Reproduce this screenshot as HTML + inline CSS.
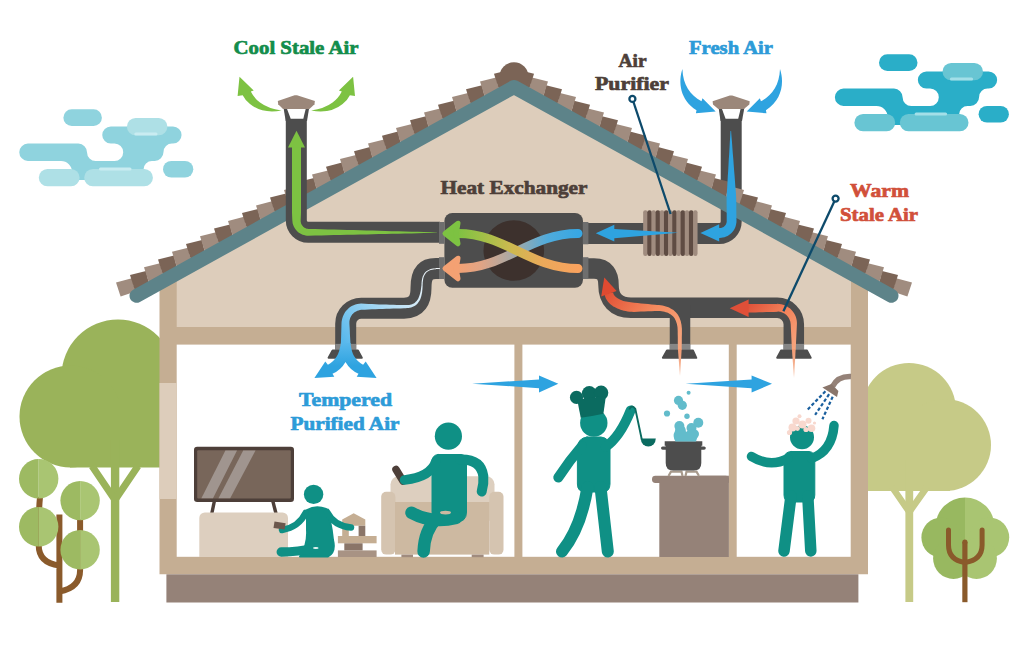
<!DOCTYPE html>
<html><head><meta charset="utf-8"><title>Heat Recovery Ventilation</title>
<style>
html,body{margin:0;padding:0;background:#fff;}
body{width:1024px;height:657px;overflow:hidden;font-family:"Liberation Serif",serif;}
svg{display:block;}
text{font-family:"Liberation Serif",serif;font-weight:bold;}
</style></head><body>
<svg width="1024" height="657" viewBox="0 0 1024 657">
<defs>
<g id="cloudMain">
<path d="M27.9,143.6 H78.4 A8.65,8.65 0 0 1 87,152.25 A8.65,8.65 0 0 0 95.7,160.9 H114.5 A8.65,8.65 0 0 0 123.2,152.25 A8.65,8.65 0 0 0 114.5,143.6 H110.8 A8.55,8.55 0 0 1 110.8,126.5 H173 A8.55,8.55 0 0 1 173,143.6 H172 A8.5,8.5 0 0 0 163.5,152.1 A8.8,8.8 0 0 1 154.7,160.9 H152 A8.5,8.5 0 0 0 143.5,169.4 V180 H72 V172 A11,11 0 0 0 61,160.9 H27.9 A8.65,8.65 0 0 1 27.9,143.6 Z"/>
<rect x="63.4" y="109.3" width="38.5" height="16.7" rx="8.35"/>
<rect x="163" y="160.9" width="30.3" height="16.7" rx="8.35"/>
</g>
<g id="cloudLight">
<rect x="126.9" y="118" width="40.5" height="17.3" rx="8.65"/>
<rect x="38.8" y="169" width="40.8" height="17.3" rx="8.65"/>
<rect x="84.2" y="169" width="68.7" height="17.3" rx="8.65"/>
</g>
<g id="cloudHi">
<rect x="134.3" y="132.6" width="23.2" height="3" rx="1.5"/>
<rect x="99" y="167.6" width="32.5" height="3" rx="1.5"/>
</g>
</defs>

<!-- ===== CLOUDS ===== -->
<g id="cloud-left">
<use href="#cloudMain" fill="#8fd3de"/><use href="#cloudLight" fill="#aee0e6"/><use href="#cloudHi" fill="#c9ecf1"/>
</g>
<g id="cloud-right" transform="translate(815.6,-55)">
<use href="#cloudMain" fill="#2aaec8"/><use href="#cloudLight" fill="#68c5d3"/><use href="#cloudHi" fill="#a3dfe8"/>
</g>

<!-- ===== BIG TREES (behind house) ===== -->
<g id="tree-left-big" fill="#9ab35a">
<circle cx="118" cy="376" r="56.5"/>
<circle cx="70.5" cy="416.5" r="51"/>
<rect x="70" y="400" width="100" height="67.5"/>
<rect x="110.9" y="440" width="8.4" height="162"/>
<path d="M115,500 L92,466 M115,500 L138,466" stroke="#9ab35a" stroke-width="7" fill="none"/>
</g>
<g id="tree-right-big" fill="#c6ca87">
<circle cx="909" cy="410" r="47"/>
<circle cx="945" cy="445" r="46"/>
<rect x="860" y="420" width="90" height="71"/>
<rect x="905.4" y="460" width="7.8" height="142"/>
<path d="M909.3,512 L892,487 M909.3,512 L927,487" stroke="#c6ca87" stroke-width="6.5" fill="none"/>
</g>

<!-- ===== SMALL TREES ===== -->
<g id="tree-left-small">
<path d="M59.4,602.8 V514.5 M59.4,565.5 Q38.7,563 38.7,545 V530 Q38.7,510 40,497 M59.4,591.5 Q80.1,588 80.1,570 V550 Q80.1,530 80.1,519" stroke="#8a5a2b" stroke-width="6" fill="none"/>
<path d="M38.7,459.0 A19.7,19.7 0 0 0 38.7,498.4 Z" fill="#9dba62"/><path d="M38.7,459.0 A19.7,19.7 0 0 1 38.7,498.4 Z" fill="#a9c572"/>
<path d="M80.1,480.90000000000003 A19.7,19.7 0 0 0 80.1,520.3000000000001 Z" fill="#9dba62"/><path d="M80.1,480.90000000000003 A19.7,19.7 0 0 1 80.1,520.3000000000001 Z" fill="#a9c572"/>
<path d="M38.7,507.00000000000006 A19.7,19.7 0 0 0 38.7,546.4000000000001 Z" fill="#9dba62"/><path d="M38.7,507.00000000000006 A19.7,19.7 0 0 1 38.7,546.4000000000001 Z" fill="#a9c572"/>
<path d="M80.1,530.0999999999999 A19.7,19.7 0 0 0 80.1,569.5 Z" fill="#9dba62"/><path d="M80.1,530.0999999999999 A19.7,19.7 0 0 1 80.1,569.5 Z" fill="#a9c572"/>
</g>
<g id="tree-right-small">
<defs><clipPath id="rtL"><rect x="900" y="480" width="65.1" height="130"/></clipPath><clipPath id="rtR"><rect x="965.1" y="480" width="70" height="130"/></clipPath>
<g id="rtree"><circle cx="965" cy="527" r="29.6"/><circle cx="941.4" cy="537.5" r="20"/><circle cx="989.2" cy="537.5" r="20"/><circle cx="953.5" cy="558.5" r="20.4"/><circle cx="976.5" cy="558.5" r="20.4"/></g></defs>
<use href="#rtree" fill="#98b860" clip-path="url(#rtL)"/><use href="#rtree" fill="#a9c572" clip-path="url(#rtR)"/>
<path d="M964.9,602.2 V542" stroke="#8a5a2b" stroke-width="5.2" fill="none"/><circle cx="964.9" cy="542" r="2.6" fill="#8a5a2b"/><path d="M948.5,530 V545 Q948.5,560 964.9,562.5 Q982.1,560 982.1,545 V530" stroke="#8a5a2b" stroke-width="5" fill="none" stroke-linecap="round"/>
</g>
<!-- ===== HOUSE BODY ===== -->
<g id="house">
<!-- outer tan wall shape incl gable -->
<polygon fill="#c5ae93" points="159.5,289.5 513.7,93.6 868,289.5 868,574.3 159.5,574.3"/>
<!-- attic beige -->
<polygon fill="#ddcdbb" points="176.7,280 513.7,93.6 851,280 851,327 176.7,327"/>
<!-- rooms white -->
<rect x="176.7" y="344.6" width="337.7" height="212.2" fill="#fff"/>
<rect x="522.4" y="344.6" width="206.4" height="212.2" fill="#fff"/>
<rect x="736.7" y="344.6" width="114" height="212.2" fill="#fff"/>
<!-- left wall light section -->
<rect x="159.5" y="383" width="17.2" height="116" fill="#ddcdbb"/>
<!-- foundation -->
<rect x="166.4" y="574.3" width="692" height="28.2" fill="#958278"/>
</g>

<g id="pipe-behind-roof">
<path d="M731.2,112 V221.6 a12,12 0 0 1 -12,12 H588" fill="none" stroke="#4d4d4d" stroke-width="21"/>
</g>
<!-- ===== ROOF ===== -->
<g id="roof">
<polygon fill="#a08c7f" points="116,282.6 131.8,278.3 135.5,291.5 120.6,296.4"/>
<polygon fill="#7b6456" points="130.0,275.1 146.0,271.0 150.0,288.3 136.0,294.0"/>
<polygon fill="#a08c7f" points="144.0,267.3 160.0,263.3 164.0,280.6 150.0,286.3"/>
<polygon fill="#7b6456" points="158.0,259.6 174.0,255.5 178.0,272.8 164.0,278.6"/>
<polygon fill="#a08c7f" points="172.0,251.8 188.0,247.8 192.0,265.1 178.0,270.8"/>
<polygon fill="#7b6456" points="186.0,244.1 202.0,240.0 206.0,257.3 192.0,263.1"/>
<polygon fill="#a08c7f" points="200.0,236.3 216.0,232.3 220.0,249.6 206.0,255.3"/>
<polygon fill="#7b6456" points="214.0,228.6 230.0,224.6 234.0,241.8 220.0,247.6"/>
<polygon fill="#a08c7f" points="228.0,220.9 244.0,216.8 248.0,234.1 234.0,239.8"/>
<polygon fill="#7b6456" points="242.0,213.1 258.0,209.1 262.0,226.4 248.0,232.1"/>
<polygon fill="#a08c7f" points="256.0,205.4 272.0,201.3 276.0,218.6 262.0,224.4"/>
<polygon fill="#7b6456" points="270.0,197.6 286.0,193.6 290.0,210.9 276.0,216.6"/>
<polygon fill="#a08c7f" points="284.0,189.9 300.0,185.8 304.0,203.1 290.0,208.9"/>
<polygon fill="#7b6456" points="298.0,182.1 314.0,178.1 318.0,195.4 304.0,201.1"/>
<polygon fill="#a08c7f" points="312.0,174.4 328.0,170.4 332.0,187.6 318.0,193.4"/>
<polygon fill="#7b6456" points="326.0,166.7 342.0,162.6 346.0,179.9 332.0,185.6"/>
<polygon fill="#a08c7f" points="340.0,158.9 356.0,154.9 360.0,172.2 346.0,177.9"/>
<polygon fill="#7b6456" points="354.0,151.2 370.0,147.1 374.0,164.4 360.0,170.2"/>
<polygon fill="#a08c7f" points="368.0,143.4 384.0,139.4 388.0,156.7 374.0,162.4"/>
<polygon fill="#7b6456" points="382.0,135.7 398.0,131.6 402.0,148.9 388.0,154.7"/>
<polygon fill="#a08c7f" points="396.0,128.0 412.0,123.9 416.0,141.2 402.0,146.9"/>
<polygon fill="#7b6456" points="410.0,120.2 426.0,116.2 430.0,133.5 416.0,139.2"/>
<polygon fill="#a08c7f" points="424.0,112.5 440.0,108.4 444.0,125.7 430.0,131.5"/>
<polygon fill="#7b6456" points="438.0,104.7 454.0,100.7 458.0,118.0 444.0,123.7"/>
<polygon fill="#a08c7f" points="452.0,97.0 468.0,92.9 472.0,110.2 458.0,116.0"/>
<polygon fill="#7b6456" points="466.0,89.2 482.0,85.2 486.0,102.5 472.0,108.2"/>
<polygon fill="#a08c7f" points="480.0,81.5 496.0,77.5 500.0,94.7 486.0,100.5"/>
<polygon fill="#7b6456" points="494.0,73.8 510.0,69.7 514.0,87.0 500.0,92.7"/>
<polygon fill="#a08c7f" points="912,282.6 896.2,278.3 892.5,291.5 907.4,296.4"/>
<polygon fill="#7b6456" points="898.0,275.1 882.0,271.0 878.0,288.3 892.0,294.0"/>
<polygon fill="#a08c7f" points="884.0,267.3 868.0,263.3 864.0,280.6 878.0,286.3"/>
<polygon fill="#7b6456" points="870.0,259.6 854.0,255.5 850.0,272.8 864.0,278.6"/>
<polygon fill="#a08c7f" points="856.0,251.8 840.0,247.8 836.0,265.1 850.0,270.8"/>
<polygon fill="#7b6456" points="842.0,244.1 826.0,240.0 822.0,257.3 836.0,263.1"/>
<polygon fill="#a08c7f" points="828.0,236.3 812.0,232.3 808.0,249.6 822.0,255.3"/>
<polygon fill="#7b6456" points="814.0,228.6 798.0,224.6 794.0,241.8 808.0,247.6"/>
<polygon fill="#a08c7f" points="800.0,220.9 784.0,216.8 780.0,234.1 794.0,239.8"/>
<polygon fill="#7b6456" points="786.0,213.1 770.0,209.1 766.0,226.4 780.0,232.1"/>
<polygon fill="#a08c7f" points="772.0,205.4 756.0,201.3 752.0,218.6 766.0,224.4"/>
<polygon fill="#7b6456" points="758.0,197.6 742.0,193.6 738.0,210.9 752.0,216.6"/>
<polygon fill="#a08c7f" points="744.0,189.9 728.0,185.8 724.0,203.1 738.0,208.9"/>
<polygon fill="#7b6456" points="730.0,182.1 714.0,178.1 710.0,195.4 724.0,201.1"/>
<polygon fill="#a08c7f" points="716.0,174.4 700.0,170.4 696.0,187.6 710.0,193.4"/>
<polygon fill="#7b6456" points="702.0,166.7 686.0,162.6 682.0,179.9 696.0,185.6"/>
<polygon fill="#a08c7f" points="688.0,158.9 672.0,154.9 668.0,172.2 682.0,177.9"/>
<polygon fill="#7b6456" points="674.0,151.2 658.0,147.1 654.0,164.4 668.0,170.2"/>
<polygon fill="#a08c7f" points="660.0,143.4 644.0,139.4 640.0,156.7 654.0,162.4"/>
<polygon fill="#7b6456" points="646.0,135.7 630.0,131.6 626.0,148.9 640.0,154.7"/>
<polygon fill="#a08c7f" points="632.0,128.0 616.0,123.9 612.0,141.2 626.0,146.9"/>
<polygon fill="#7b6456" points="618.0,120.2 602.0,116.2 598.0,133.5 612.0,139.2"/>
<polygon fill="#a08c7f" points="604.0,112.5 588.0,108.4 584.0,125.7 598.0,131.5"/>
<polygon fill="#7b6456" points="590.0,104.7 574.0,100.7 570.0,118.0 584.0,123.7"/>
<polygon fill="#a08c7f" points="576.0,97.0 560.0,92.9 556.0,110.2 570.0,116.0"/>
<polygon fill="#7b6456" points="562.0,89.2 546.0,85.2 542.0,102.5 556.0,108.2"/>
<polygon fill="#a08c7f" points="548.0,81.5 532.0,77.5 528.0,94.7 542.0,100.5"/>
<polygon fill="#7b6456" points="534.0,73.8 518.0,69.7 514.0,87.0 528.0,92.7"/>
<circle cx="514" cy="76.7" r="14.5" fill="#7b6456"/>
<polyline points="136.5,295.8 514,87 891.5,295.8" fill="none" stroke="#5d8389" stroke-width="14" stroke-linecap="round" stroke-linejoin="round"/>
</g>

<!-- ===== ROOF PIPES (drawn above roof) ===== -->
<g id="pipes">
<!-- cool stale air pipe + duct -->
<path d="M296.3,112 V220.3 a12,12 0 0 0 12,12 H440" fill="none" stroke="#4d4d4d" stroke-width="21"/>
<polygon fill="#4d4d4d" points="283.4,107 309.3,107 307,121 285.7,121"/>
<polygon fill="#fff" points="286.9,108.5 305.8,108.5 303.3,118.8 290.7,118.8"/>
<polygon fill="#9b877a" points="294.6,95.3 297,95.3 314.9,100.9 314.5,104.3 309.4,109 283,109 278.2,104.3 277.8,100.9"/>
<!-- fresh air pipe + duct -->
<polygon fill="#4d4d4d" points="718.5,107 744.5,107 742,121 720.5,121"/>
<polygon fill="#fff" points="721.8,108.5 740.7,108.5 738.2,118.8 725.6,118.8"/>
<polygon fill="#9b877a" points="729.8,95.5 732.2,95.5 749.7,101.2 749.3,104.5 743.9,108.9 718.3,108.9 713,104.5 712.6,101.2"/>
<!-- tempered air duct (S shape) -->
<path d="M444,268.6 H436 C424,268.6 421,276 421,288 C421,300 417,308.2 404,308.2 H361.2 a15.5,15.5 0 0 0 -15.5,15.5 V350" fill="none" stroke="#4d4d4d" stroke-width="21"/>
<polygon fill="#4d4d4d" stroke="#4d4d4d" stroke-width="2" stroke-linejoin="round" points="332.6,350.6 358,350.6 361.8,357.8 328.6,357.8"/>
<rect x="335.2" y="343.9" width="21" height="5.8" fill="#868686"/>
<!-- warm stale air ducts -->
<path d="M588,268.6 H594 C605,268.6 608.5,275 608.5,285 C608.5,299 616,307.8 631,307.8 H777.3 a16.5,16.5 0 0 1 16.5,16.5 V350" fill="none" stroke="#4d4d4d" stroke-width="20.5"/>
<path d="M680,305 V350" fill="none" stroke="#4d4d4d" stroke-width="20.5"/>
<polygon fill="#4d4d4d" stroke="#4d4d4d" stroke-width="2" stroke-linejoin="round" points="781,350.6 807,350.6 810.7,357.8 777.2,357.8"/>
<polygon fill="#4d4d4d" stroke="#4d4d4d" stroke-width="2" stroke-linejoin="round" points="667,350.6 693,350.6 696.3,357.8 662.9,357.8"/>
<rect x="783.55" y="343.9" width="20.5" height="5.8" fill="#868686"/>
<rect x="669.75" y="343.9" width="20.5" height="5.8" fill="#868686"/>
<!-- heat exchanger box -->
<rect x="444.4" y="213" width="138.6" height="74.8" rx="8" fill="#4d4d4d"/>
<circle cx="513.8" cy="250.5" r="30.3" fill="#3d312d"/>
<!-- collars -->
<rect x="439" y="222" width="5.6" height="21.8" fill="#6e6e6e"/>
<rect x="439" y="257.2" width="5.6" height="21.8" fill="#6e6e6e"/>
<rect x="582.8" y="222" width="5.6" height="22.3" fill="#6e6e6e"/>
<rect x="582.8" y="257.2" width="5.6" height="21.8" fill="#6e6e6e"/>
<!-- purifier -->
<g id="purifier">
<rect x="644.5" y="212.5" width="51.7" height="41" fill="#a08c7f"/>
<rect x="643.15" y="210.2" width="4.46" height="45.7" rx="2.1" fill="#a08c7f"/>
<rect x="647.31" y="210.2" width="4.46" height="45.7" rx="2.1" fill="#5f4c43"/>
<rect x="651.47" y="210.2" width="4.46" height="45.7" rx="2.1" fill="#a08c7f"/>
<rect x="655.63" y="210.2" width="4.46" height="45.7" rx="2.1" fill="#5f4c43"/>
<rect x="659.80" y="210.2" width="4.46" height="45.7" rx="2.1" fill="#a08c7f"/>
<rect x="663.96" y="210.2" width="4.46" height="45.7" rx="2.1" fill="#5f4c43"/>
<rect x="668.12" y="210.2" width="4.46" height="45.7" rx="2.1" fill="#a08c7f"/>
<rect x="672.28" y="210.2" width="4.46" height="45.7" rx="2.1" fill="#5f4c43"/>
<rect x="676.44" y="210.2" width="4.46" height="45.7" rx="2.1" fill="#a08c7f"/>
<rect x="680.60" y="210.2" width="4.46" height="45.7" rx="2.1" fill="#5f4c43"/>
<rect x="684.77" y="210.2" width="4.46" height="45.7" rx="2.1" fill="#a08c7f"/>
<rect x="688.93" y="210.2" width="4.46" height="45.7" rx="2.1" fill="#5f4c43"/>
<rect x="693.09" y="210.2" width="4.46" height="45.7" rx="2.1" fill="#a08c7f"/>
</g>
</g>
<g id="flows">
<defs>
<linearGradient id="gTemp" gradientUnits="userSpaceOnUse" x1="436" y1="268" x2="346" y2="345">
<stop offset="0" stop-color="#f4f9fc"/><stop offset="0.35" stop-color="#cfe8f6"/><stop offset="0.7" stop-color="#8fcff2"/><stop offset="1" stop-color="#58b8ec"/></linearGradient>
<linearGradient id="gTemp2" gradientUnits="userSpaceOnUse" x1="0" y1="343" x2="0" y2="366">
<stop offset="0" stop-color="#58b8ec"/><stop offset="1" stop-color="#2ea3e0"/></linearGradient>
<linearGradient id="gWarmM" gradientUnits="userSpaceOnUse" x1="680" y1="345" x2="606" y2="285">
<stop offset="0" stop-color="#f7a67e"/><stop offset="0.45" stop-color="#f58a5e"/><stop offset="1" stop-color="#df4a31"/></linearGradient>
<linearGradient id="gWarmR" gradientUnits="userSpaceOnUse" x1="794" y1="350" x2="745" y2="306">
<stop offset="0" stop-color="#f7a67e"/><stop offset="0.5" stop-color="#f3825a"/><stop offset="1" stop-color="#df4f38"/></linearGradient>
<linearGradient id="gDrip" gradientUnits="userSpaceOnUse" x1="0" y1="349" x2="0" y2="378">
<stop offset="0" stop-color="#f39a72"/><stop offset="1" stop-color="#f7c3a8"/></linearGradient>
<linearGradient id="gXA" gradientUnits="userSpaceOnUse" x1="578" y1="0" x2="457" y2="0">
<stop offset="0" stop-color="#38a7e3"/><stop offset="0.25" stop-color="#4fabdc"/><stop offset="0.52" stop-color="#a3a9a8"/><stop offset="0.8" stop-color="#e0a485"/><stop offset="1" stop-color="#f4a173"/></linearGradient>
<linearGradient id="gXB" gradientUnits="userSpaceOnUse" x1="578" y1="0" x2="457" y2="0">
<stop offset="0" stop-color="#f9a25e"/><stop offset="0.3" stop-color="#eaa95a"/><stop offset="0.55" stop-color="#cdb94f"/><stop offset="0.8" stop-color="#9fc047"/><stop offset="1" stop-color="#7dc242"/></linearGradient>
</defs>
<path d="M440.0,268.0 L438.0,268.1 L436.0,268.1 L436.0,268.3 L434.5,268.4 L433.2,268.5 L431.9,268.8 L430.7,269.1 L429.6,269.4 L428.6,269.9 L427.6,270.4 L426.8,270.9 L426.0,271.6 L425.3,272.3 L424.6,273.0 L424.1,273.8 L423.6,274.7 L423.1,275.7 L422.7,276.6 L422.4,277.7 L422.1,278.8 L421.9,280.0 L421.7,281.2 L421.6,282.4 L421.5,283.7 L421.5,285.1 L421.3,286.5 L421.1,288.0 L420.9,289.5 L420.7,290.9 L420.4,292.3 L420.1,293.6 L419.7,294.8 L419.3,296.0 L418.9,297.1 L418.4,298.2 L417.9,299.2 L417.3,300.1 L416.7,300.9 L416.0,301.6 L415.3,302.3 L414.6,302.9 L413.8,303.4 L413.0,303.8 L412.1,304.2 L411.2,304.5 L410.2,304.7 L409.1,304.9 L407.9,305.0 L406.7,305.0 L405.4,305.1 L404.0,305.1 L400.4,305.0 L396.9,304.9 L393.3,304.8 L389.7,304.7 L386.2,304.6 L382.6,304.5 L379.0,304.4 L375.5,304.2 L371.9,304.1 L368.3,303.9 L364.8,303.7 L361.1,303.6 L359.2,303.7 L357.3,304.1 L355.4,304.6 L353.6,305.3 L351.8,306.1 L350.1,307.1 L348.6,308.3 L347.2,309.7 L345.9,311.1 L344.7,312.7 L343.8,314.4 L343.0,316.2 L342.4,318.0 L341.9,319.9 L341.6,321.8 L341.5,323.6 L341.4,327.1 L341.3,330.5 L341.2,333.9 L341.1,337.2 L341.0,340.6 L340.9,344.0 L350.5,344.0 L350.3,340.6 L350.1,337.2 L349.9,333.9 L349.8,330.5 L349.6,327.1 L349.4,323.8 L349.4,322.5 L349.4,321.4 L349.6,320.2 L349.9,319.0 L350.3,317.8 L350.8,316.7 L351.4,315.7 L352.1,314.6 L353.0,313.7 L353.9,312.8 L355.0,312.1 L356.1,311.4 L357.3,310.8 L358.5,310.4 L359.9,310.0 L361.2,309.8 L364.8,309.7 L368.3,309.5 L371.9,309.3 L375.5,309.2 L379.0,309.0 L382.6,308.9 L386.2,308.8 L389.7,308.7 L393.3,308.6 L396.9,308.5 L400.4,308.4 L404.0,308.3 L405.6,308.3 L407.1,308.1 L408.5,308.0 L409.8,307.8 L411.1,307.5 L412.3,307.1 L413.4,306.6 L414.5,306.0 L415.4,305.4 L416.3,304.7 L417.2,303.9 L417.9,303.0 L418.6,302.1 L419.3,301.1 L419.9,300.0 L420.4,298.9 L420.8,297.7 L421.2,296.5 L421.5,295.2 L421.8,293.8 L422.1,292.4 L422.2,291.0 L422.4,289.5 L422.5,288.0 L422.6,286.6 L422.6,285.2 L422.7,283.8 L422.7,282.6 L422.9,281.3 L423.0,280.2 L423.2,279.1 L423.4,278.0 L423.7,277.0 L424.1,276.1 L424.5,275.2 L424.9,274.4 L425.4,273.7 L426.0,273.0 L426.6,272.3 L427.3,271.7 L428.1,271.2 L428.9,270.7 L429.9,270.3 L430.9,270.0 L432.0,269.7 L433.3,269.4 L434.6,269.3 L436.1,269.2 L436.1,269.0 L438.0,268.9 L440.0,268.8 Z" fill="url(#gTemp)"/>
<path fill="url(#gTemp2)" d="M340.9,343 Q339.5,352 337,356 Q333,362.5 327.9,364.7 L325.3,361.5 L314.4,378 L334.3,376.8 L332.5,373.8 Q341,370 345.5,362 Q350,370 358.5,373.8 L356.7,376.8 L376.6,378 L365.7,361.5 L363.1,364.7 Q358,362.5 354,356 Q351.5,352 350.5,343 Z"/>
<path d="M681.7,349.5 L681.7,346.4 L681.8,343.3 L681.8,340.2 L681.8,337.2 L681.9,334.1 L681.9,331.0 L681.9,328.8 L681.7,326.8 L681.5,324.8 L681.1,322.9 L680.7,321.1 L680.1,319.4 L679.5,317.8 L678.7,316.3 L677.9,314.8 L676.9,313.5 L675.8,312.3 L674.7,311.2 L673.4,310.1 L672.0,309.2 L670.6,308.4 L669.1,307.6 L667.6,307.0 L665.9,306.4 L664.3,306.0 L662.5,305.6 L660.7,305.3 L658.9,305.1 L657.0,304.9 L655.1,304.7 L651.6,304.4 L648.1,304.1 L644.6,303.7 L641.1,303.4 L637.6,303.1 L634.2,302.7 L632.4,302.5 L630.7,302.2 L629.1,302.0 L627.5,301.8 L626.0,301.5 L624.6,301.2 L623.3,300.9 L622.1,300.5 L621.0,300.0 L619.9,299.6 L618.9,299.1 L618.0,298.6 L617.2,298.1 L616.5,297.6 L615.9,297.1 L615.3,296.6 L614.8,296.1 L614.4,295.6 L614.1,295.1 L613.8,294.6 L613.5,294.2 L613.4,293.7 L613.3,293.3 L613.2,292.6 L604.6,293.8 L604.8,294.8 L605.0,296.1 L605.4,297.3 L605.9,298.5 L606.5,299.6 L607.3,300.7 L608.0,301.8 L608.9,302.8 L609.9,303.8 L611.0,304.7 L612.1,305.5 L613.3,306.4 L614.6,307.1 L616.0,307.8 L617.4,308.5 L618.9,309.1 L620.5,309.7 L622.2,310.2 L623.9,310.7 L625.7,311.1 L627.6,311.5 L629.6,311.7 L631.7,311.8 L633.8,311.9 L637.4,311.7 L640.9,311.6 L644.4,311.5 L647.9,311.3 L651.4,311.2 L654.9,311.1 L656.7,311.0 L658.4,311.0 L660.0,311.1 L661.6,311.3 L663.1,311.5 L664.5,311.8 L665.8,312.2 L667.1,312.6 L668.3,313.1 L669.4,313.7 L670.4,314.3 L671.4,315.0 L672.3,315.8 L673.2,316.6 L674.0,317.6 L674.7,318.6 L675.3,319.8 L675.9,321.0 L676.4,322.4 L676.9,323.9 L677.2,325.5 L677.5,327.2 L677.6,329.0 L677.7,331.0 L677.7,334.1 L677.8,337.2 L677.8,340.2 L677.8,343.3 L677.9,346.4 L677.9,349.5 Z" fill="url(#gWarmM)"/>
<polygon fill="#df4a31" points="604.3,277.4 601.2,296.6 616.6,290.9"/>
<path d="M795.7,349.5 L795.9,345.3 L796.1,341.1 L796.3,336.9 L796.5,332.6 L796.7,328.4 L796.9,324.2 L796.9,322.3 L796.7,320.3 L796.3,318.5 L795.7,316.6 L794.9,314.8 L793.9,313.1 L792.8,311.5 L791.5,310.0 L790.1,308.6 L788.5,307.4 L786.8,306.3 L785.1,305.4 L783.2,304.7 L781.3,304.2 L779.3,303.9 L777.0,303.8 L777.0,304.0 L773.6,304.0 L769.9,304.0 L766.3,303.9 L762.6,303.9 L758.9,303.9 L755.3,303.9 L751.6,303.9 L748.0,303.9 L748.0,312.5 L751.7,312.5 L755.4,312.4 L759.0,312.3 L762.7,312.2 L766.4,312.1 L770.0,312.0 L773.7,311.9 L777.6,311.8 L777.6,311.6 L778.5,311.6 L779.8,311.8 L781.0,312.1 L782.2,312.5 L783.3,313.0 L784.4,313.6 L785.5,314.3 L786.4,315.1 L787.3,316.0 L788.1,317.0 L788.8,318.0 L789.4,319.2 L789.9,320.4 L790.3,321.6 L790.5,322.9 L790.7,324.2 L790.9,328.4 L791.1,332.6 L791.3,336.9 L791.5,341.1 L791.7,345.3 L791.9,349.5 Z" fill="url(#gWarmR)"/>
<polygon fill="#df4f38" points="729.7,308.2 748.6,299.6 748.6,317"/>
<polygon fill="url(#gDrip)" points="677.9,349 681.7,349 680,376"/>
<polygon fill="url(#gDrip)" points="791.9,349 795.7,349 794,378"/>
<path d="M292.0,147.0 L292.0,154.3 L292.0,161.7 L292.0,169.0 L292.0,176.3 L292.0,183.7 L292.0,191.0 L292.0,198.3 L292.0,205.6 L292.0,213.0 L292.3,220.3 L292.5,221.9 L292.7,223.4 L293.2,224.9 L293.8,226.4 L294.5,227.8 L295.3,229.1 L296.3,230.3 L297.4,231.4 L298.5,232.4 L299.8,233.3 L301.2,234.0 L302.6,234.7 L304.0,235.1 L305.5,235.5 L307.0,235.7 L308.5,235.7 L314.9,235.5 L321.3,235.4 L327.8,235.3 L334.2,235.1 L340.6,235.0 L347.0,234.8 L353.5,234.7 L359.9,234.5 L366.3,234.4 L372.7,234.3 L379.2,234.1 L385.6,234.0 L392.0,233.8 L398.4,233.7 L404.9,233.6 L411.3,233.4 L417.7,233.3 L424.1,233.1 L430.6,233.0 L437.0,232.8 L437.0,232.4 L430.6,232.2 L424.2,232.0 L417.7,231.8 L411.3,231.7 L404.9,231.5 L398.5,231.3 L392.0,231.2 L385.6,231.0 L379.2,230.8 L372.8,230.6 L366.3,230.5 L359.9,230.3 L353.5,230.1 L347.1,230.0 L340.6,229.8 L334.2,229.6 L327.8,229.4 L321.4,229.3 L314.9,229.1 L308.5,228.9 L307.7,228.8 L306.8,228.7 L306.0,228.4 L305.3,228.1 L304.5,227.7 L303.9,227.2 L303.2,226.7 L302.7,226.1 L302.2,225.5 L301.7,224.8 L301.4,224.1 L301.1,223.4 L300.9,222.6 L300.7,221.8 L300.7,221.1 L300.7,220.3 L301.0,213.0 L301.0,205.6 L301.0,198.3 L301.0,191.0 L301.0,183.7 L301.0,176.3 L301.0,169.0 L301.0,161.7 L301.0,154.3 L301.0,147.0 Z" fill="#7dc242"/>
<polygon fill="#7dc242" points="296.5,130.7 305,147.6 288,147.6"/>
<path d="M730.5,131.0 L730.2,136.6 L729.8,142.3 L729.5,147.9 L729.2,153.5 L728.8,159.1 L728.5,164.8 L728.2,170.4 L727.8,176.0 L727.5,181.7 L727.2,187.3 L726.8,192.9 L726.6,198.5 L726.6,204.2 L726.7,209.8 L726.7,215.4 L726.7,221.0 L726.7,221.7 L726.6,222.4 L726.4,223.1 L726.2,223.7 L725.9,224.4 L725.5,225.0 L725.1,225.5 L724.6,226.0 L724.1,226.5 L723.6,226.9 L723.0,227.3 L722.3,227.6 L721.7,227.8 L721.0,228.0 L720.3,228.1 L719.5,228.1 L718.5,228.1 L718.5,237.9 L719.7,237.9 L721.3,237.8 L722.9,237.6 L724.5,237.2 L726.1,236.6 L727.6,235.9 L729.0,235.0 L730.3,234.0 L731.5,232.9 L732.6,231.7 L733.6,230.4 L734.5,229.0 L735.2,227.5 L735.7,225.9 L736.1,224.3 L736.4,222.7 L736.5,221.0 L736.4,215.3 L736.3,209.7 L736.3,204.1 L736.2,198.5 L735.9,192.8 L735.4,187.2 L735.0,181.6 L734.6,176.0 L734.1,170.3 L733.7,164.7 L733.3,159.1 L732.8,153.5 L732.4,147.9 L732.0,142.2 L731.5,136.6 L731.1,131.0 Z" fill="#2ea3e0"/>
<polygon fill="#2ea3e0" points="700.4,233 719.2,224.2 719.2,241.6"/>
<polygon fill="#2ea3e0" points="678.4,232.8 614.3,229 614.3,224.8 595.8,233.3 614.3,241.6 614.3,238.3"/>
<path d="M578,233.5 C530,233.5 505,268.5 458,268.5" fill="none" stroke="url(#gXA)" stroke-width="9" stroke-linecap="round"/>
<polygon points="458,258.2 445,268.5 458,278.8 456.2,268.5" fill="#f4a173" stroke="#f4a173" stroke-width="5" stroke-linejoin="round"/>
<path d="M578,268.5 C530,268.5 505,233.5 458,233.5" fill="none" stroke="url(#gXB)" stroke-width="9" stroke-linecap="round"/>
<polygon points="458,223.2 445,233.5 458,243.8 456.2,233.5" fill="#7dc242" stroke="#7dc242" stroke-width="5" stroke-linejoin="round"/>
</g>


<!-- ===== LIVING ROOM ===== -->
<g id="living">
<!-- TV -->
<line x1="214.4" y1="501" x2="211.8" y2="513.5" stroke="#4d3f39" stroke-width="3.4"/>
<line x1="272.8" y1="501" x2="276" y2="513.5" stroke="#4d3f39" stroke-width="3.4"/>
<rect x="194" y="446.8" width="100" height="55.2" rx="3.2" fill="#4d3f39"/>
<rect x="197.2" y="450.2" width="93.6" height="48.3" rx="1" fill="#78665a"/>
<polygon fill="#a0958f" points="225.4,450.6 237,450.6 213,498.3 201.4,498.3"/>
<polygon fill="#a0958f" points="243.2,450.6 255.5,450.6 230.2,498.3 218.5,498.3"/>
<path d="M199.3,557 V518 a5.5,5.5 0 0 1 5.5,-5.5 H282.5 a5.5,5.5 0 0 1 5.5,5.5 V557 Z" fill="#ddcfbf"/>
<!-- blocks -->
<polygon fill="#c5ae93" points="353.7,513.2 365.3,519.5 365.3,525.8 342.2,525.8 342.2,519.5"/>
<rect x="342.2" y="525.8" width="6.6" height="10.4" fill="#c5ae93"/>
<rect x="358.6" y="525.8" width="6.7" height="10.4" fill="#8a7568"/>
<rect x="337.9" y="536" width="38.7" height="7.3" fill="#c5ae93"/>
<rect x="344.3" y="543.3" width="18.3" height="7.2" fill="#8a7568"/>
<rect x="337.9" y="550.4" width="38.7" height="6.6" fill="#a89384"/>
<!-- child -->
<g fill="#0f9085" stroke="#0f9085" stroke-linecap="round" stroke-linejoin="round">
<circle cx="313.6" cy="494.4" r="9.7" stroke="none"/>
<path d="M307,510 Q316,505 326,509 Q331,520 333,540 Q336,552 328,556.5 H300 Q308,545 307,530 Z" stroke-width="2"/>
<path d="M305.5,513 Q299,527 282,530" fill="none" stroke-width="6.5"/>
<path d="M327,512 Q334,526 351,527.5" fill="none" stroke-width="6.5"/>
<path d="M315,548 Q298,552 281.3,552" fill="none" stroke-width="9.5"/>
</g>
<ellipse cx="315.8" cy="548" rx="2.8" ry="0.9" fill="#e8f5f3"/>
<polygon fill="#6b574c" points="274.5,521.6 285.6,523.2 284.6,529.6 273.5,528"/>
<!-- sofa -->
<rect x="390.5" y="476.3" width="104" height="45" rx="8" fill="#ddcfbf"/>
<rect x="381.2" y="491.8" width="14.2" height="62.8" rx="5" fill="#d5c4b0"/>
<rect x="489.3" y="491.8" width="14.2" height="62.8" rx="5" fill="#d5c4b0"/>
<rect x="395" y="502" width="94.3" height="52.6" fill="#cdb9a1"/>
<rect x="401.4" y="554.6" width="11.6" height="2.6" fill="#a08b7e"/>
<rect x="471.7" y="554.6" width="11.9" height="2.6" fill="#a08b7e"/>
<!-- adult -->
<line x1="396" y1="469.5" x2="403" y2="481" stroke="#4d3f39" stroke-width="7.5" stroke-linecap="round"/>
<g fill="#0f9085" stroke="#0f9085" stroke-linecap="round" stroke-linejoin="round">
<circle cx="448.4" cy="436.2" r="13.6" stroke="none"/>
<path d="M438,454.5 H461 Q466.5,455 466.5,462 V512 Q466.5,522 456,522 H443 Q432,522 432,512 V462 Q432,455 438,454.5 Z" stroke-width="1"/>
<path d="M460,459.5 Q481,459 483.3,476 Q484,484 481.7,491.5" fill="none" stroke-width="10"/>
<path d="M436,461 Q431,477 404.5,480" fill="none" stroke-width="9.5"/>
<path d="M456,518 Q432,524 411.5,512.8" fill="none" stroke-width="12.5"/>
<path d="M437,518 Q424.5,530 423.6,551.5" fill="none" stroke-width="12.5"/>
</g>
<ellipse cx="445.5" cy="512.6" rx="5.5" ry="1.9" fill="#cdb9a1"/>
</g>

<!-- ===== KITCHEN ===== -->
<g id="kitchen">
<rect x="659.3" y="478" width="69.6" height="79" fill="#958278"/>
<rect x="652" y="475.7" width="77" height="7.2" rx="3.4" fill="#958278"/>
<rect x="700" y="475.7" width="28.9" height="7.2" fill="#958278"/>
<!-- burner -->
<path d="M668.5,476 L671,471.6 H681.5 L682.5,476 M685.5,476 L686.5,471.6 H696.5 L699,476" fill="none" stroke="#a89a8c" stroke-width="2.2"/>
<!-- pot -->
<rect x="661" y="446.4" width="44.8" height="3.4" rx="1.7" fill="#4d4d4d"/>
<path d="M664.7,441.3 H702.3 V445.7 H701.3 V463 Q701.3,470.6 693.8,470.6 H673.2 Q665.7,470.6 665.7,463 V445.7 H664.7 Z" fill="#4d4d4d"/>
<!-- steam -->
<g fill="#62bccb">
<circle cx="678.5" cy="400.4" r="4.6"/><circle cx="682.3" cy="405.3" r="4.6"/>
<circle cx="688.6" cy="392.8" r="2"/><circle cx="667" cy="413.5" r="3.1"/><circle cx="687" cy="416.2" r="2.7"/>
<circle cx="698.3" cy="422.8" r="5"/><circle cx="691.5" cy="428" r="5"/><circle cx="679.4" cy="426" r="5"/>
<circle cx="694.5" cy="434" r="4.5"/>
<path d="M675,431 Q675,424 681,425 Q686,426 686,432 Q690,428 695,431 Q699,435 696,441.5 H675.5 Q672,436 675,431 Z"/>
</g>
<!-- chef -->
<g fill="#0f9085" stroke="#0f9085" stroke-linecap="round" stroke-linejoin="round">
<circle cx="593.8" cy="423" r="13.7" stroke="none"/>
<path d="M587,437 H601 Q610,438 610,448 V484 Q610,492 602,492 H585.5 Q577.4,492 577.4,484 V449 Q577.4,438 587,437 Z" stroke-width="1"/>
<path d="M605.5,447 Q620,437 630.6,410.5" fill="none" stroke-width="10"/>
<path d="M582,446 Q569,461 558.3,477.5" fill="none" stroke-width="10"/>
<path d="M587.5,487 Q581,528 562,551.5" fill="none" stroke-width="12"/>
<path d="M600.5,487 L607.8,551.5" fill="none" stroke-width="12"/>
</g>
<g fill="#0b6b60">
<circle cx="576.5" cy="397.4" r="6.6"/><circle cx="589.3" cy="393.5" r="7.4"/><circle cx="601.1" cy="392.8" r="7.2"/>
<path d="M577.2,399.5 L605.9,396 L603.4,413.8 Q592,416.3 580.7,417.8 Z"/>
<path d="M629.3,409.5 Q631.5,403.8 635.3,408.8 L641.9,440" stroke="#0b6b60" stroke-width="1.9" fill="none"/>
<path d="M640.8,438.6 H655.8 A7.5,8 0 0 1 640.8,438.6 Z"/>
</g>
</g>

<!-- ===== BATHROOM ===== -->
<g id="bath">
<path d="M851,376.6 Q838,376 832.5,386.5" fill="none" stroke="#958278" stroke-width="5.5"/>
<polygon fill="#8a766b" points="822.4,387.5 831.5,384 838.4,391 837,396.9"/>
<g stroke="#1a5f9e" stroke-width="2.2" stroke-dasharray="3.4 2.1" fill="none">
<line x1="825.4" y1="391.2" x2="807.8" y2="409.5"/>
<line x1="829.1" y1="394.2" x2="815.1" y2="414.9"/>
<line x1="832.7" y1="396.7" x2="822.4" y2="419.2"/>
</g>
<g fill="#0f9085" stroke="#0f9085" stroke-linecap="round" stroke-linejoin="round">
<circle cx="802" cy="437.2" r="12" stroke="none"/>
<path d="M791,451.5 H809 Q814.8,452 814.8,459 V495 Q814.8,502 808,502 H791 Q784,502 784,495 V459 Q784,452 791,451.5 Z" stroke-width="1"/>
<path d="M788,458.5 Q770,468 751.5,456.5" fill="none" stroke-width="9.5"/>
<path d="M811.5,458.5 Q832,451 834,425.5" fill="none" stroke-width="9.5"/>
<path d="M791,496 L784,551" fill="none" stroke-width="11.5"/>
<path d="M807.8,496 L810.8,551" fill="none" stroke-width="11.5"/>
</g>
<g fill="#f8d8ce">
<circle cx="792.5" cy="427.5" r="4"/><circle cx="796" cy="421" r="3.6"/><circle cx="802.5" cy="424.5" r="4"/>
<circle cx="808.5" cy="420.8" r="3"/><circle cx="811.5" cy="428.3" r="3.8"/><circle cx="806" cy="429.5" r="2.6"/>
<circle cx="789.5" cy="432.5" r="2.6"/><circle cx="799.5" cy="416.3" r="2"/><circle cx="814.5" cy="423" r="1.6"/>
<circle cx="797.5" cy="428.5" r="2.4"/>
</g>
</g>
<!-- ===== OUTSIDE ARROWS ===== -->
<g id="cap-arrows">
<path id="gArrL" fill="#7dc242" d="M281.5,110.5 Q262,114 250,104 Q245,100 242.7,95.2 L237.6,95.9 L239.5,76.8 L253.7,90.5 L250.8,91.5 Q254,98 260,102.5 Q268,108.5 281.5,110.5 Z"/>
<use href="#gArrL" transform="translate(592.6,0) scale(-1,1)"/>
<path id="bArrL" fill="#2ea3e0" d="M682.4,69 C678,82 680,100 696.5,110.2 L695.9,113.3 L715.7,111.5 L702.5,98.3 L701.5,101.3 C690,95 683,85 682.4,69 Z"/>
<use href="#bArrL" transform="translate(1462.4,0) scale(-1,1)"/>
</g>
<!-- ===== ROOM ARROWS ===== -->
<g id="room-arrows" fill="#2ea3e0">
<polygon points="472.2,383.7 539,379.5 539,375.6 558.3,383.8 539,392.4 539,388.2"/>
<polygon points="685.6,383.7 751.6,379.5 751.6,375.6 772,383.8 751.6,392.4 751.6,388.2"/>
</g>
<!-- ===== CALLOUTS ===== -->
<g id="callouts" stroke="#0d4a6b" stroke-width="2.3" fill="#fff">
<line x1="633.3" y1="101.5" x2="670.6" y2="214"/>
<circle cx="632.4" cy="98.9" r="3"/>
<line x1="834.4" y1="201.2" x2="783.4" y2="311.2"/>
<circle cx="835.6" cy="198.6" r="3"/>
</g>
<!-- ===== TEXT ===== -->
<g id="labels" font-size="19.6" stroke-width="0.7" stroke-linejoin="round" opacity="0.999">
<text x="296" y="54" text-anchor="middle" fill="#138d4b" stroke="#138d4b" textLength="125" lengthAdjust="spacingAndGlyphs">Cool Stale Air</text>
<text x="731" y="54" text-anchor="middle" fill="#2d9bd8" stroke="#2d9bd8" textLength="84" lengthAdjust="spacingAndGlyphs">Fresh Air</text>
<text x="632.5" y="66.9" text-anchor="middle" fill="#4d3f39" stroke="#4d3f39" textLength="28" lengthAdjust="spacingAndGlyphs">Air</text>
<text x="632" y="90.4" text-anchor="middle" fill="#4d3f39" stroke="#4d3f39" textLength="74" lengthAdjust="spacingAndGlyphs">Purifier</text>
<text x="514" y="194" text-anchor="middle" fill="#4d3f39" stroke="#4d3f39" textLength="147" lengthAdjust="spacingAndGlyphs">Heat Exchanger</text>
<text x="879.5" y="197" text-anchor="middle" fill="#d1503a" stroke="#d1503a" textLength="59" lengthAdjust="spacingAndGlyphs">Warm</text>
<text x="879" y="220.5" text-anchor="middle" fill="#d1503a" stroke="#d1503a" textLength="78" lengthAdjust="spacingAndGlyphs">Stale Air</text>
<text x="345.5" y="406.2" text-anchor="middle" fill="#2d9bd8" stroke="#2d9bd8" textLength="93" lengthAdjust="spacingAndGlyphs">Tempered</text>
<text x="345" y="429.8" text-anchor="middle" fill="#2d9bd8" stroke="#2d9bd8" textLength="109" lengthAdjust="spacingAndGlyphs">Purified Air</text>
</g>
</svg>

</body></html>
